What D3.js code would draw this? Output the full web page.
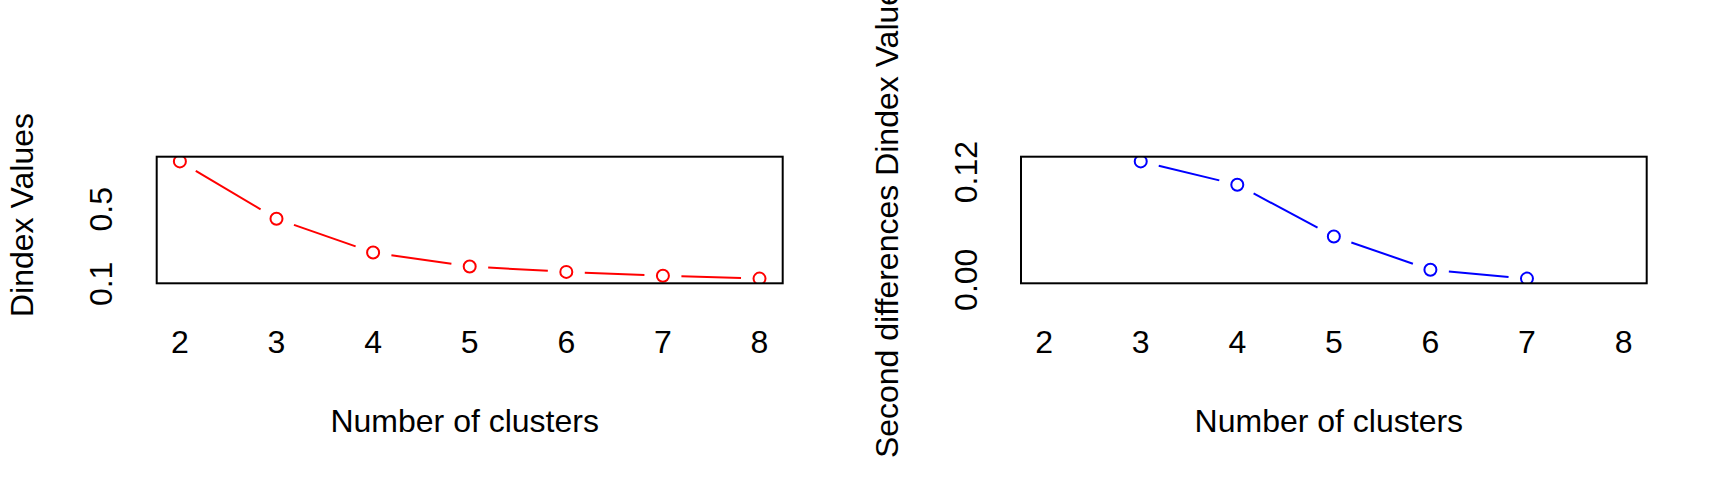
<!DOCTYPE html>
<html>
<head>
<meta charset="utf-8">
<script src="https://cdn.jsdelivr.net/npm/d3@7"></script>
<style>
  html, body { margin: 0; padding: 0; background: #fff; }
  svg { display: block; }
  text { font-family: "Liberation Sans", Arial, sans-serif; font-size: 32px; fill: #000; }
</style>
</head>
<body>
<svg id="chart" width="1728" height="480"></svg>
<script>
// ---- data ----
const clusters = [2, 3, 4, 5, 6, 7, 8];
const dindexValues = [0.757, 0.449, 0.268, 0.193, 0.164, 0.143, 0.128];
const secondDiffClusters = [3, 4, 5, 6, 7];
const secondDiffValues = [0.132, 0.106, 0.0483, 0.0112, 0.0013];
const xTickValues = [2, 3, 4, 5, 6, 7, 8];
const leftYTickValues = [0.1, 0.5];
const rightYTickValues = [0.00, 0.12];
const xTitle = "Number of clusters";
const leftYTitle = "Dindex Values";
const rightYTitle = "Second differences Dindex Values";

const svg = d3.select("#chart");

function padded(ext) {
  const r = ext[1] - ext[0];
  return [ext[0] - 0.04 * r, ext[1] + 0.04 * r];
}

function panel(opts) {
  const { left, right, top, bottom, xs, ys, color, yTicks, yFmt, yTitle, id } = opts;
  const g = svg.append("g");
  const x = d3.scaleLinear().domain(padded([2, 8])).range([left, right]);
  const y = d3.scaleLinear().domain(padded(d3.extent(ys))).range([bottom, top]);

  g.append("clipPath").attr("id", id)
    .append("rect").attr("x", left).attr("y", top)
    .attr("width", right - left).attr("height", bottom - top);

  const plot = g.append("g").attr("clip-path", `url(#${id})`);
  const pts = xs.map((v, i) => [x(v), y(ys[i])]);
  const gap = 18.5;
  const segs = d3.pairs(pts).map(([a, b]) => {
    const dx = b[0] - a[0], dy = b[1] - a[1];
    const L = Math.hypot(dx, dy);
    const ux = dx / L, uy = dy / L;
    return [[a[0] + ux * gap, a[1] + uy * gap], [b[0] - ux * gap, b[1] - uy * gap]];
  }).filter(s => (s[1][0] - s[0][0]) > 0);
  plot.selectAll("line.seg").data(segs).join("line")
    .attr("class", "seg")
    .attr("x1", d => d[0][0]).attr("y1", d => d[0][1])
    .attr("x2", d => d[1][0]).attr("y2", d => d[1][1])
    .attr("stroke", color).attr("stroke-width", 2);
  plot.selectAll("circle").data(pts).join("circle")
    .attr("cx", d => d[0]).attr("cy", d => d[1]).attr("r", 6)
    .attr("fill", "none").attr("stroke", color).attr("stroke-width", 2);

  // frame
  g.append("rect").attr("x", left).attr("y", top)
    .attr("width", right - left).attr("height", bottom - top)
    .attr("fill", "none").attr("stroke", "#000").attr("stroke-width", 2);

  // x tick labels
  g.selectAll("text.xt").data(xTickValues).join("text")
    .attr("class", "xt")
    .attr("x", d => x(d)).attr("y", 353)
    .attr("text-anchor", "middle")
    .text(d => d);

  // y tick labels (rotated)
  g.selectAll("text.yt").data(yTicks).join("text")
    .attr("class", "yt")
    .attr("transform", d => `translate(${left - 44.5},${y(d)}) rotate(-90)`)
    .attr("text-anchor", "middle")
    .text(d => d3.format(yFmt)(d));

  // titles
  g.append("text")
    .attr("x", (left + right) / 2 - 5).attr("y", 431.5)
    .attr("text-anchor", "middle").text(xTitle);
  g.append("text")
    .attr("transform", `translate(${left - 123.5},${(top + bottom) / 2 - 5}) rotate(-90)`)
    .attr("text-anchor", "middle").text(yTitle);
}

panel({ id: "clipL", left: 156.7, right: 782.7, top: 156.7, bottom: 283.3,
  xs: clusters, ys: dindexValues, color: "#ff0000",
  yTicks: leftYTickValues, yFmt: ".1f", yTitle: leftYTitle });
panel({ id: "clipR", left: 1021, right: 1646.7, top: 156.7, bottom: 283.3,
  xs: secondDiffClusters, ys: secondDiffValues, color: "#0000ff",
  yTicks: rightYTickValues, yFmt: ".2f", yTitle: rightYTitle });
</script>
</body>
</html>
